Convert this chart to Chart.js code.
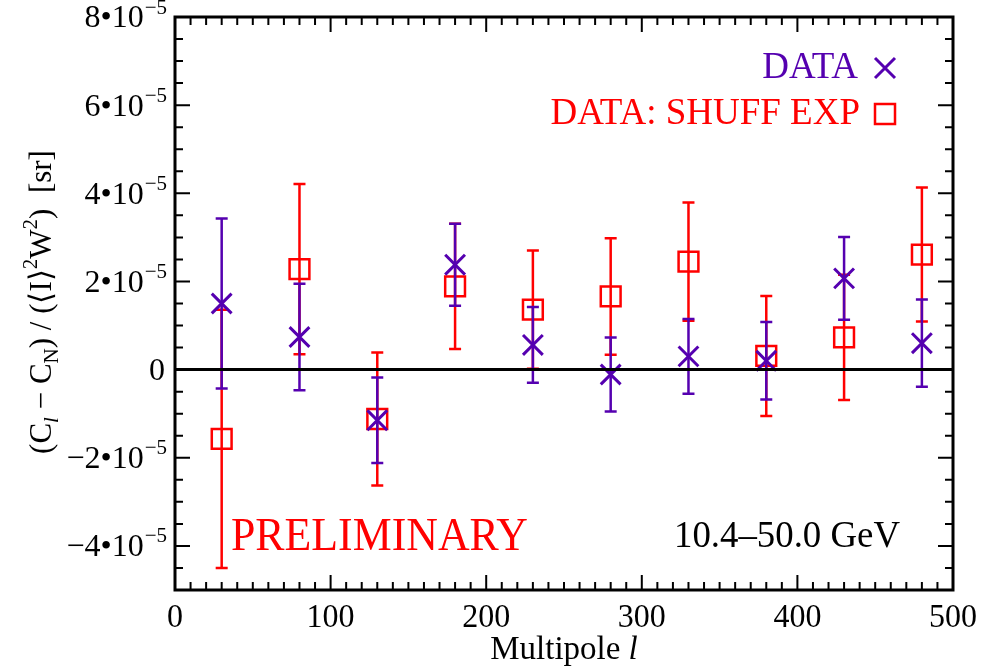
<!DOCTYPE html>
<html>
<head>
<meta charset="utf-8">
<script src="https://cdn.jsdelivr.net/npm/chart.js@4"></script>
<style>
  body { margin: 0; background: #fff; }
  canvas { display: block; }
</style>
</head>
<body>
<canvas id="chart" width="988" height="670"></canvas>
<script>
// values (units: sr)
const multipole = [30, 80, 130, 180, 230, 280, 330, 380, 430, 480];
const dataValues = [1.50e-5, 0.74e-5, -1.15e-5, 2.38e-5, 0.56e-5, -0.11e-5, 0.30e-5, 0.20e-5, 2.07e-5, 0.60e-5];
const dataErrors = [1.93e-5, 1.21e-5, 0.97e-5, 0.93e-5, 0.86e-5, 0.84e-5, 0.85e-5, 0.88e-5, 0.94e-5, 0.99e-5];
const shuffValues = [-1.57e-5, 2.28e-5, -1.12e-5, 1.89e-5, 1.36e-5, 1.66e-5, 2.45e-5, 0.31e-5, 0.73e-5, 2.61e-5];
const shuffErrors = [2.93e-5, 1.93e-5, 1.51e-5, 1.42e-5, 1.34e-5, 1.32e-5, 1.34e-5, 1.36e-5, 1.42e-5, 1.52e-5];

const xTicks = [0, 100, 200, 300, 400, 500];
const yTicks = [-4e-5, -2e-5, 0, 2e-5, 4e-5, 6e-5, 8e-5];
const zeroLineX = [0, 500];

const SERIF = '"Liberation Serif", "Times New Roman", serif';
const PURPLE = '#5500b0';
const RED = '#ff0000';

function errorBars(chart, index, errs, color) {
    const ds = chart.data.datasets[index];
    const meta = chart.getDatasetMeta(index);
    const yScale = chart.scales.y;
    const ctx = chart.ctx;
    ctx.save();
    ctx.strokeStyle = color;
    ctx.lineWidth = 2.5;
    meta.data.forEach((pt, i) => {
        const top = yScale.getPixelForValue(ds.data[i].y + errs[i]);
        const bot = yScale.getPixelForValue(ds.data[i].y - errs[i]);
        ctx.beginPath();
        ctx.moveTo(pt.x, top); ctx.lineTo(pt.x, bot);
        ctx.moveTo(pt.x - 6, top); ctx.lineTo(pt.x + 6, top);
        ctx.moveTo(pt.x - 6, bot); ctx.lineTo(pt.x + 6, bot);
        ctx.stroke();
    });
    ctx.restore();
}

// text made of runs: [text, kind] kind = n | sub | subi | sup
function fontFor(kind, size) {
    const s = kind === 'n' ? size : Math.round(size * 0.68);
    return (kind === 'subi' ? 'italic ' : '') + s + 'px ' + SERIF;
}
function runsWidth(ctx, runs, size) {
    let w = 0;
    runs.forEach(([t, k]) => {
        ctx.font = fontFor(k, size);
        w += ctx.measureText(t).width;
    });
    return w;
}
function drawRuns(ctx, runs, x, y, size) {
    runs.forEach(([t, k]) => {
        ctx.font = fontFor(k, size);
        let dy = 0;
        if (k === 'sub' || k === 'subi') dy = size * 0.3;
        if (k === 'sup') dy = -size * 0.38;
        ctx.fillText(t, x, y + dy);
        x += ctx.measureText(t).width;
    });
}

const decor = {
    id: 'decor',
    beforeDatasetDraw(chart, args) {
        const label = chart.data.datasets[args.index].label;
        if (label === 'DATA') errorBars(chart, args.index, dataErrors, PURPLE);
        if (label === 'DATA: SHUFF EXP') errorBars(chart, args.index, shuffErrors, RED);
    },
    afterDraw(chart) {
        const ctx = chart.ctx;
        const a = chart.chartArea;
        const xs = chart.scales.x, ys = chart.scales.y;
        ctx.save();
        ctx.strokeStyle = '#000';
        ctx.fillStyle = '#000';

        // inward ticks on all four sides
        ctx.lineWidth = 2;
        ctx.beginPath();
        for (let v = 0; v <= 500; v += 10) {
            const px = xs.getPixelForValue(v);
            const len = v % 100 === 0 ? 15 : 8;
            ctx.moveTo(px, a.bottom); ctx.lineTo(px, a.bottom - len);
            ctx.moveTo(px, a.top); ctx.lineTo(px, a.top + len);
        }
        for (let k = -10; k <= 16; k++) {
            const py = ys.getPixelForValue(k * 0.5e-5);
            const len = k % 4 === 0 ? 15 : 8;
            ctx.moveTo(a.left, py); ctx.lineTo(a.left + len, py);
            ctx.moveTo(a.right, py); ctx.lineTo(a.right - len, py);
        }
        ctx.stroke();

        // frame
        ctx.lineWidth = 3;
        ctx.strokeRect(a.left, a.top, a.right - a.left, a.bottom - a.top);

        // x tick labels
        ctx.textAlign = 'center';
        ctx.textBaseline = 'middle';
        ctx.font = '34px ' + SERIF;
        xTicks.forEach(v => {
            const t = String(v);
            ctx.fillText(t, xs.getPixelForValue(v), 618, t.length * 16);
        });

        // x title
        ctx.textAlign = 'left';
        ctx.font = '33px ' + SERIF;
        const w1 = ctx.measureText('Multipole ').width;
        ctx.font = 'italic 33px ' + SERIF;
        const w2 = ctx.measureText('l').width;
        const x0 = (a.left + a.right) / 2 - (w1 + w2) / 2;
        ctx.font = '33px ' + SERIF;
        ctx.fillText('Multipole ', x0, 650);
        ctx.font = 'italic 33px ' + SERIF;
        ctx.fillText('l', x0 + w1, 650);

        // y tick labels with superscript exponent
        yTicks.forEach(v => {
            const py = ys.getPixelForValue(v) + 2;
            ctx.textAlign = 'right';
            if (v === 0) {
                ctx.font = '32px ' + SERIF;
                ctx.fillText('0', 165, py);
                return;
            }
            const mant = Math.round(v / 1e-5);
            const base = (mant < 0 ? '\u2212' : '') + Math.abs(mant) + '\u202210';
            ctx.font = '21px ' + SERIF;
            ctx.fillText('\u22125', 167, py - 11);
            const ew = ctx.measureText('\u22125').width;
            ctx.font = '32px ' + SERIF;
            ctx.fillText(base, 167 - ew - 1, py);
        });

        // y title (rotated)
        const yr = [['(C', 'n'], ['l', 'subi'], [' \u2212 C', 'n'], ['N', 'sub'], [') / (\u27e8I\u27e9', 'n'],
                    ['2', 'sup'], ['W', 'n'], ['2', 'sup'], [')  [sr]', 'n']];
        ctx.save();
        ctx.translate(43, 302);
        ctx.rotate(-Math.PI / 2);
        ctx.textAlign = 'left';
        const tw = runsWidth(ctx, yr, 31);
        drawRuns(ctx, yr, -tw / 2, 0, 31);
        ctx.restore();

        // legend
        ctx.textAlign = 'right';
        ctx.font = '37px ' + SERIF;
        ctx.fillStyle = PURPLE;
        ctx.fillText('DATA', 858, 68, 98);
        ctx.fillStyle = RED;
        ctx.fillText('DATA: SHUFF EXP', 860, 114, 316);
        ctx.lineWidth = 3;
        ctx.strokeStyle = PURPLE;
        ctx.beginPath();
        ctx.moveTo(875, 58); ctx.lineTo(895, 78);
        ctx.moveTo(895, 58); ctx.lineTo(875, 78);
        ctx.stroke();
        ctx.strokeStyle = RED;
        ctx.lineWidth = 2.5;
        ctx.strokeRect(875, 104, 20, 20);

        // annotations
        ctx.textAlign = 'left';
        ctx.fillStyle = RED;
        ctx.font = '46px ' + SERIF;
        ctx.fillText('PRELIMINARY', 231, 538, 297);
        ctx.fillStyle = '#000';
        ctx.font = '37px ' + SERIF;
        ctx.fillText('10.4\u201350.0 GeV', 674, 537, 226);
        ctx.restore();
    }
};

new Chart(document.getElementById('chart').getContext('2d'), {
    type: 'scatter',
    data: {
        datasets: [
            {
                label: 'zero',
                type: 'line',
                data: zeroLineX.map(x => ({x: x, y: 0})),
                borderColor: '#000',
                borderWidth: 3,
                pointRadius: 0,
                order: 1
            },
            {
                label: 'DATA',
                data: multipole.map((x, i) => ({x: x, y: dataValues[i]})),
                pointStyle: 'crossRot',
                pointRadius: 14,
                borderColor: PURPLE,
                backgroundColor: PURPLE,
                borderWidth: 3,
                order: 2
            },
            {
                label: 'DATA: SHUFF EXP',
                data: multipole.map((x, i) => ({x: x, y: shuffValues[i]})),
                pointStyle: 'rect',
                pointRadius: 14,
                borderColor: RED,
                backgroundColor: 'rgba(0,0,0,0)',
                borderWidth: 2.5,
                order: 3
            }
        ]
    },
    options: {
        responsive: false,
        animation: false,
        events: [],
        layout: { padding: { left: 175, right: 35, top: 17, bottom: 80 } },
        plugins: { legend: { display: false }, tooltip: { enabled: false } },
        scales: {
            x: { type: 'linear', min: 0, max: 500, display: false },
            y: { type: 'linear', min: -5e-5, max: 8e-5, display: false }
        }
    },
    plugins: [decor]
});
</script>
</body>
</html>
